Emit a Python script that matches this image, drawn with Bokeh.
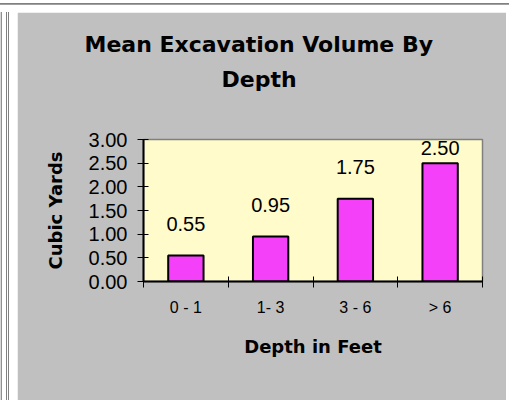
from bokeh.plotting import figure
from bokeh.models import Range1d, FixedTicker, Title, NumeralTickFormatter, Div
from bokeh.layouts import column, row
from bokeh.embed import file_html
from bokeh.resources import INLINE
from bokeh.core.properties import value

# ---- data ----
categories = ["0 - 1", "1- 3", "3 - 6", "> 6"]
volumes = [0.55, 0.95, 1.75, 2.50]
y_ticks = [0.0, 0.5, 1.0, 1.5, 2.0, 2.5, 3.0]
title_lines = ["Mean Excavation Volume By", "Depth"]
x_title = "Depth in Feet"
y_title = "Cubic Yards"

Y_MAX = 3.0
xs = [i + 0.5 for i in range(len(categories))]
boundaries = list(range(len(categories) + 1))
label_y = [min(v + 0.66, Y_MAX - 0.17) for v in volumes]
labels = [f"{v:.2f}" for v in volumes]

GRAY = "#C0C0C0"
YELLOW = "#FFFBCB"
MAGENTA = "#F440F8"

p = figure(width=489, height=388, output_backend="svg", toolbar_location=None,
           title=None, margin=0,
           x_range=Range1d(0, len(categories)), y_range=Range1d(0, Y_MAX),
           min_border_left=126, min_border_right=24, min_border_top=127,
           min_border_bottom=119,
           background_fill_color=YELLOW, border_fill_color=GRAY,
           outline_line_color="#808080", outline_line_width=1.5)

p.xgrid.visible = False
p.ygrid.visible = False

p.vbar(x=xs, top=volumes, bottom=0, width=0.417, fill_color=MAGENTA,
       line_color="black", line_width=2)

p.text(x=xs, y=label_y, text=labels, text_align="center", text_baseline="middle",
       text_font=value("Liberation Sans"), text_font_size="20px", text_color="black")

# x axis: labels at category centres, tick marks at category boundaries
xa = p.xaxis[0]
xa.ticker = FixedTicker(ticks=xs, minor_ticks=boundaries)
xa.major_label_overrides = {x: c for x, c in zip(xs, categories)}
xa.major_tick_line_color = None
xa.major_tick_in = 0
xa.major_tick_out = 6
xa.minor_tick_in = 5
xa.minor_tick_out = 6
xa.minor_tick_line_color = "black"
xa.minor_tick_line_width = 1
xa.axis_line_color = "black"
xa.axis_line_width = 2
xa.major_label_standoff = 11
xa.major_label_text_font = "Liberation Sans"
xa.major_label_text_font_size = "16px"
xa.major_label_text_color = "black"
xa.axis_label = x_title
xa.axis_label_standoff = 17
xa.axis_label_text_font = "DejaVu Sans"
xa.axis_label_text_font_size = "18px"
xa.axis_label_text_font_style = "bold"
xa.axis_label_text_color = "black"

ya = p.yaxis[0]
ya.ticker = FixedTicker(ticks=y_ticks)
ya.formatter = NumeralTickFormatter(format="0.00")
ya.major_tick_in = 5
ya.major_tick_out = 6
ya.major_tick_line_color = "black"
ya.minor_tick_line_color = None
ya.axis_line_color = "black"
ya.axis_line_width = 2
ya.major_label_standoff = 10
ya.major_label_text_font = "Liberation Sans"
ya.major_label_text_font_size = "20px"
ya.major_label_text_color = "black"
ya.axis_label = y_title
ya.axis_label_standoff = 20
ya.axis_label_text_font = "DejaVu Sans"
ya.axis_label_text_font_size = "18px"
ya.axis_label_text_font_style = "bold"
ya.axis_label_text_color = "black"

# two-line chart title, centred on the whole chart area.
# A blank title nearest the frame provides the gap under "Depth".
title_style = dict(text_font="DejaVu Sans", text_font_size="22px",
                   text_font_style="bold", text_color="black", align="left")
p.add_layout(Title(text=" ", standoff=17, **title_style), "above")
p.add_layout(Title(text=title_lines[1], offset=78, standoff=8, **title_style), "above")
p.add_layout(Title(text=title_lines[0], offset=-59, standoff=8, **title_style), "above")

# sheet frame lines around the chart area
top_strip = Div(width=509, height=12, margin=0, styles={
    "background": "linear-gradient(to bottom, #ffffff 0px 3px, #808080 3px 4px, "
                  "#a0a0a0 4px 5px, #ffffff 5px)"})
left_strip = Div(width=17, height=388, margin=0, styles={
    "background": "linear-gradient(to right, #d8d8d8 0px 1px, #909090 1px 2px, "
                  "#ffffff 2px 6px, #808080 6px 7px, #ffffff 7px 8px, "
                  "#808080 8px 9px, #ffffff 9px)"})

layout = column(top_strip, row(left_strip, p, spacing=0, margin=0),
                spacing=0, margin=0)

open("out.html", "w").write(file_html(layout, INLINE))
